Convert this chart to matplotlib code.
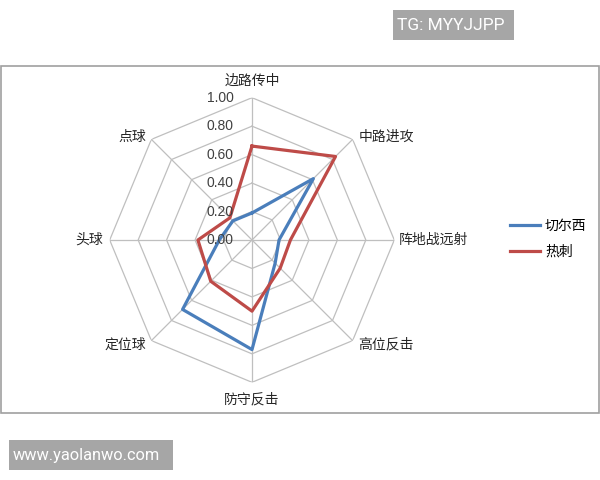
import matplotlib.pyplot as plt
import numpy as np
from matplotlib.patches import Rectangle

plt.rcParams['font.family'] = ['Noto Sans CJK SC', 'DejaVu Sans']

categories = ["边路传中", "中路进攻", "阵地战远射", "高位反击", "防守反击", "定位球", "头球", "点球"]
chelsea = [0.19, 0.61, 0.19, 0.23, 0.77, 0.69, 0.23, 0.19]
spurs = [0.66, 0.83, 0.27, 0.28, 0.50, 0.41, 0.38, 0.22]
ticks = [0.0, 0.2, 0.4, 0.6, 0.8, 1.0]

blue = "#4A7EBB"
red = "#BE4B48"
grid_col = "#BFBFBF"

n = len(categories)
angles = np.linspace(0, 2 * np.pi, n, endpoint=False)
closed = np.append(angles, angles[0])

fig = plt.figure(figsize=(6, 4.8), dpi=100)

def px_rect(x0, y0, x1, y1, **kw):
    # rectangle given in pixel coords from the top-left corner
    return Rectangle((x0 / 600, 1 - y1 / 480), (x1 - x0) / 600, (y1 - y0) / 480,
                     transform=fig.transFigure, **kw)

# outer chart frame + watermarks
fig.patches.append(px_rect(1, 66, 599, 413, fill=False, edgecolor="#A0A0A0", linewidth=1.2))
fig.patches.append(px_rect(393, 10, 514, 40, facecolor="#A6A6A6", edgecolor="none"))
fig.patches.append(px_rect(9, 440, 173, 470, facecolor="#A6A6A6", edgecolor="none"))
fig.text(397 / 600, 1 - 25.5 / 480, "TG: MYYJJPP", color="white", fontsize=12.5,
         family="Roboto", va="center", ha="left")
fig.text(13 / 600, 1 - 455.5 / 480, "www.yaolanwo.com", color="white", fontsize=11.8,
         family="Roboto", va="center", ha="left")

cx, cy, rad = 252 / 600, 1 - 240 / 480, 142.3
ax = fig.add_axes([cx - rad / 600, cy - rad / 480, 2 * rad / 600, 2 * rad / 480],
                  projection="polar")
ax.set_theta_offset(np.pi / 2)
ax.set_theta_direction(-1)
ax.set_ylim(0, 1)
ax.grid(False)
ax.spines["polar"].set_visible(False)
ax.set_xticks([])
ax.set_yticks([])
ax.patch.set_alpha(0)

for t in ticks[1:]:
    ax.plot(closed, [t] * (n + 1), color=grid_col, linewidth=0.9, zorder=1)
for a in angles:
    ax.plot([a, a], [0, 1], color=grid_col, linewidth=0.9, zorder=1)

ax.plot(closed, chelsea + chelsea[:1], color=blue, linewidth=2.3, zorder=3, label="切尔西")
ax.plot(closed, spurs + spurs[:1], color=red, linewidth=2.3, zorder=3, label="热刺")

for t in ticks:
    ax.annotate(f"{t:.2f}", xy=(0, t), xytext=(-13, 0), textcoords="offset points",
                ha="right", va="center", fontsize=10, family="Liberation Sans",
                color="#404040", zorder=4)

offsets = [(0, 12, "center"), (4, 2, "left"), (3, 0, "left"), (4, -3, "left"),
           (0, -12, "center"), (-4, -3, "right"), (-5, 0, "right"), (-4, 2, "right")]
for a, lab, (dx, dy, ha) in zip(angles, categories, offsets):
    ax.annotate(lab, xy=(a, 1), xytext=(dx, dy), textcoords="offset points",
                ha=ha, va="center", fontsize=10, color="#262626")

fig.legend(loc="center left", bbox_to_anchor=(497 / 600, 1 - 239 / 480), frameon=False,
           fontsize=10, handlelength=2.2, handletextpad=0.35, labelspacing=0.85)

fig.savefig("out.png", dpi=100, facecolor="white")
